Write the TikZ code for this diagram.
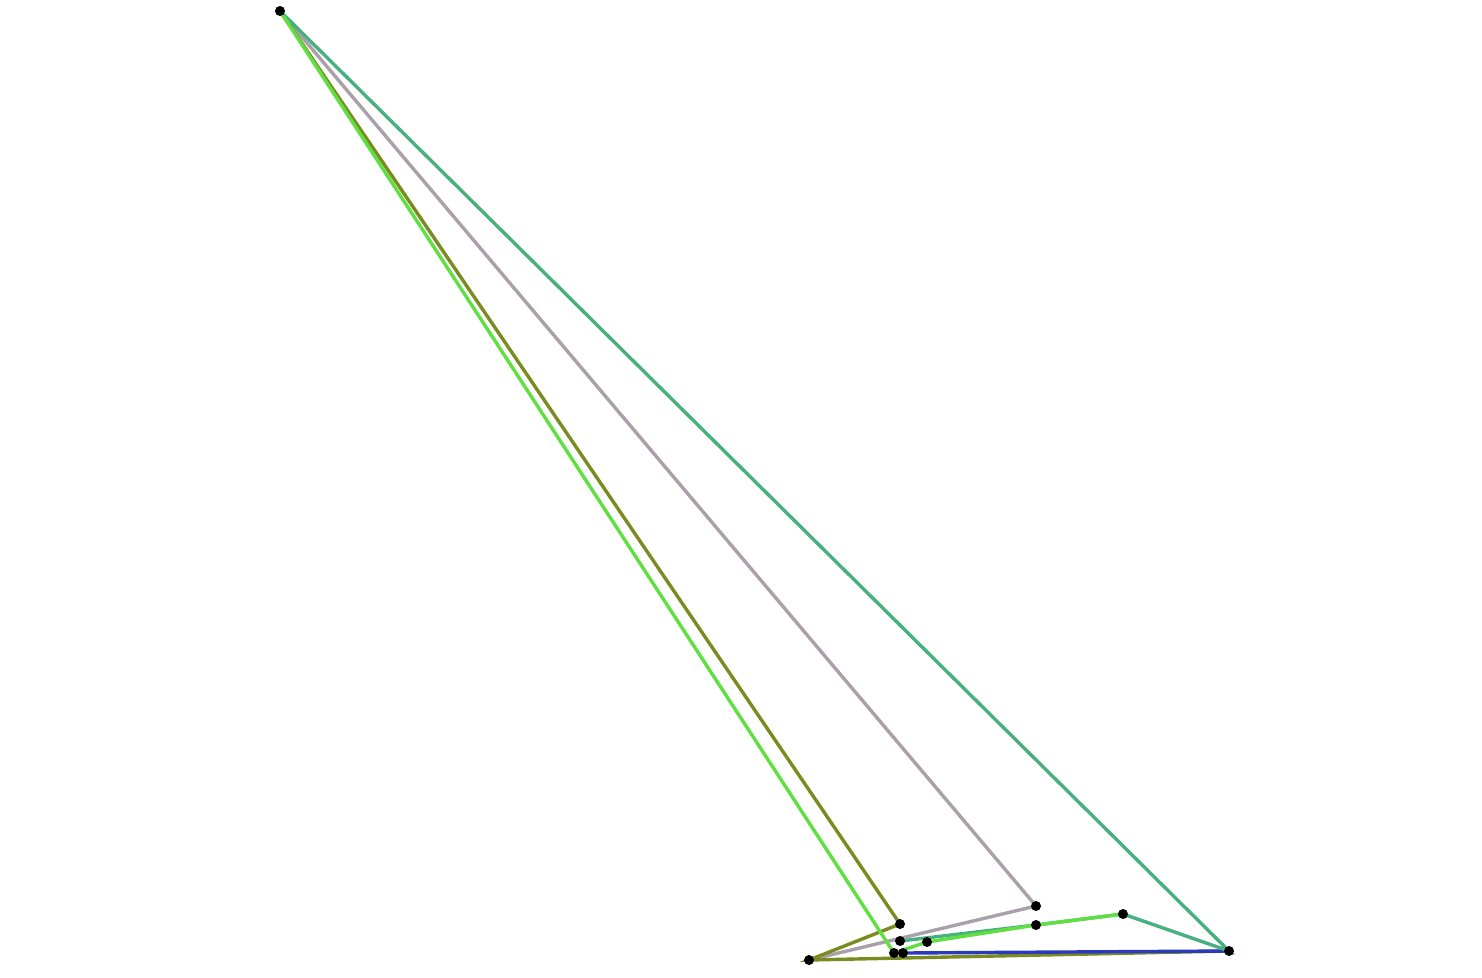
\documentclass[tikz,border=0pt]{standalone}
\begin{document}
\begin{tikzpicture}[x=1pt,y=-1pt,
  dot/.style={circle,fill=black,inner sep=0pt,minimum size=10pt},
  edge/.style={line width=3.4pt},
  ]
\definecolor{cteal}{HTML}{48B080}
\definecolor{cgreen}{HTML}{60E040}
\definecolor{colive}{HTML}{7A8C20}
\definecolor{cgrey}{HTML}{AAA0AA}
\definecolor{cblue}{HTML}{2A3ABF}
\useasboundingbox (0,0) rectangle (1482,977);
\coordinate (A) at (280,11);
\coordinate (B) at (809,960);
\coordinate (C) at (900,924);
\coordinate (D) at (900,941);
\coordinate (E) at (927,942);
\coordinate (F) at (894,953);
\coordinate (G) at (903,953);
\coordinate (H) at (1036,906);
\coordinate (I) at (1036,925);
\coordinate (J) at (1123,914);
\coordinate (K) at (1229,951);
\draw[edge,cgrey] (A) -- (H) -- (B);
\draw[edge,colive] (A) -- (C) -- (B) -- (K);
\draw[edge,cblue] (G) -- (K);
\draw[edge,cteal] (A) -- (K) -- (J) -- (I) -- (D);
\draw[edge,cgreen] (A) -- (F) -- (E) -- (I) -- (J);
\foreach \p in {A,B,C,D,E,F,G,H,I,J,K} \node[dot] (n\p) at (\p) {};
\end{tikzpicture}
\end{document}
